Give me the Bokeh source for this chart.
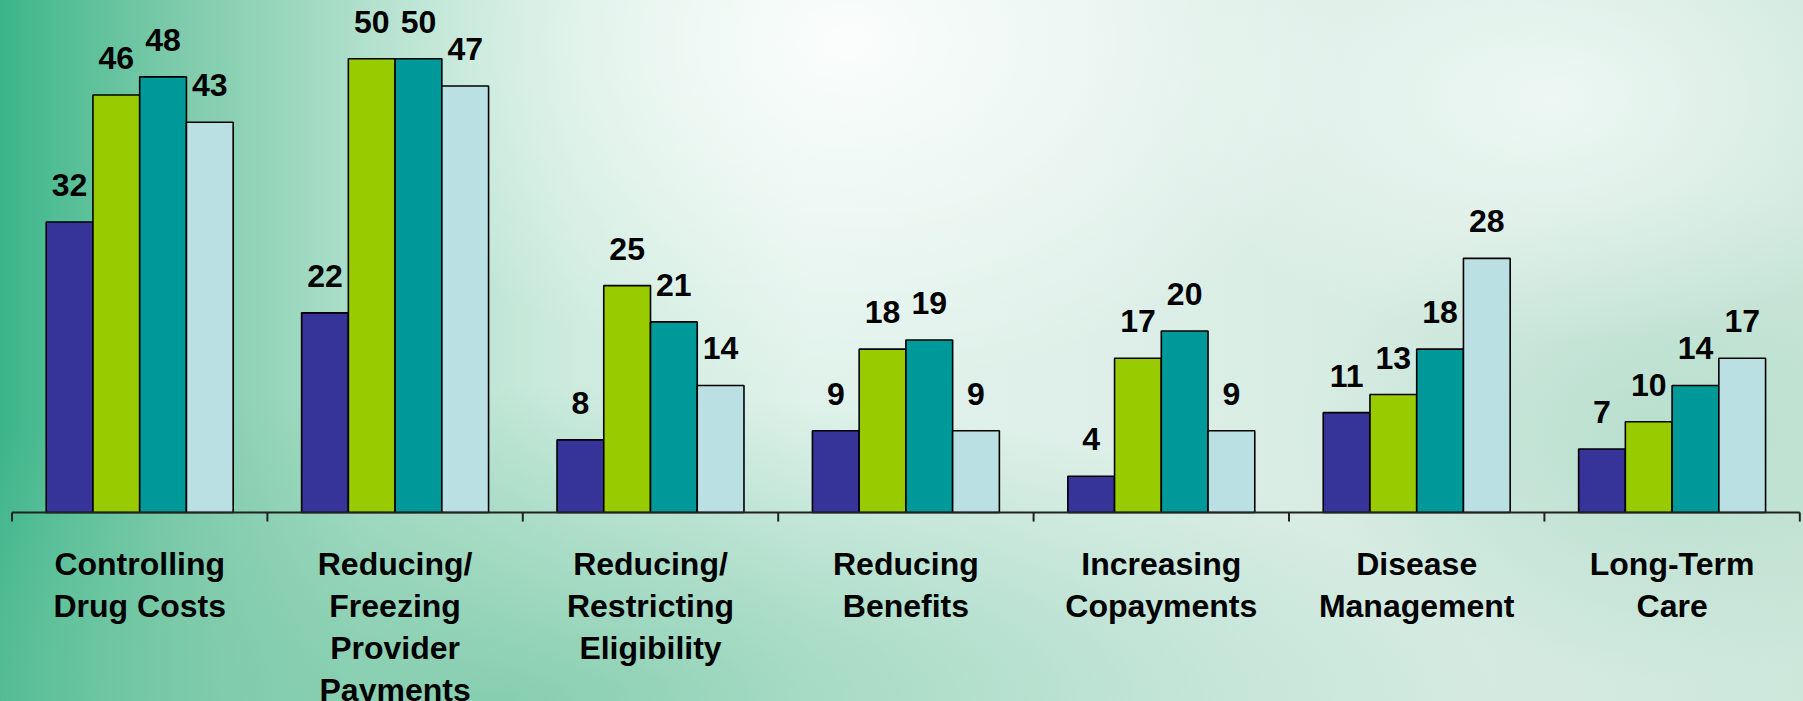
from bokeh.plotting import figure
from bokeh.models import Range1d, ColumnDataSource
from bokeh.core.properties import value
from bokeh.embed import file_html
from bokeh.resources import INLINE

# ---- data ----
categories = [
    "Controlling\nDrug Costs",
    "Reducing/\nFreezing\nProvider\nPayments",
    "Reducing/\nRestricting\nEligibility",
    "Reducing\nBenefits",
    "Increasing\nCopayments",
    "Disease\nManagement",
    "Long-Term\nCare",
]
series_a = [32, 22, 8, 9, 4, 11, 7]
series_b = [46, 50, 25, 18, 17, 13, 10]
series_c = [48, 50, 21, 19, 20, 18, 14]
series_d = [43, 47, 14, 9, 9, 28, 17]
series = [series_a, series_b, series_c, series_d]
colors = ["#363399", "#99CC00", "#009999", "#BBE0E3"]

# ---- layout constants ----
W, H = 1803, 701
cat_px = 255.4          # pixels per category
left_px = 11.5          # pixel position of category boundary 0
zero_px = 512.0         # pixel row of value 0
unit_px = 9.076         # pixels per value unit
bw = 0.183              # bar width in category units
FONT = "Liberation Sans"

p = figure(
    width=W, height=H,
    x_range=Range1d(-left_px / cat_px, (W - left_px) / cat_px),
    y_range=Range1d(-(H - zero_px) / unit_px, zero_px / unit_px),
    x_axis_type=None, y_axis_type=None,
    toolbar_location=None, output_backend="svg",
    min_border=0,
)
p.background_fill_color = None
p.border_fill_color = None
p.outline_line_color = None
p.styles = {
    "background-color": "#d5ece2",
    "background-image": (
        "radial-gradient(ellipse 28% 50% at 47% 6%, rgba(255,255,255,0.85), rgba(255,255,255,0) 100%),"
        "radial-gradient(ellipse 22% 35% at 86% 14%, rgba(245,252,250,0.75), rgba(245,252,250,0) 100%),"
        "radial-gradient(ellipse 55% 45% at 28% 100%, rgba(120,200,166,0.8), rgba(120,200,166,0) 100%),"
        "radial-gradient(ellipse 20% 35% at 92% 62%, rgba(160,214,190,0.5), rgba(160,214,190,0) 100%),"
        "linear-gradient(90deg, #3bb489 0%, #50bd94 3%, #7ecbab 10%, #aedfca 20%, #cdebde 32%, "
        "#e0f2eb 45%, #ddefe8 62%, #d6ebe2 80%, #cde7db 100%)"
    ),
}

n = len(categories)
for j, vals in enumerate(series):
    xs = [i + 0.5 + (j - 1.5) * bw for i in range(n)]
    src = ColumnDataSource(dict(x=xs, top=vals, lab=[str(v) for v in vals]))
    p.vbar(x="x", top="top", bottom=0, width=bw, source=src,
           fill_color=colors[j], line_color="#000000", line_width=1.6)
    p.text(x="x", y="top", text="lab", source=src, y_offset=-37,
           text_align="center", text_baseline="alphabetic",
           text_font=value(FONT), text_font_style="bold",
           text_font_size="32px", text_color="#000000")

# axis line and ticks at category boundaries
p.segment(x0=[0], y0=[0], x1=[n], y1=[0], line_color="#222222", line_width=2)
p.segment(x0=list(range(n + 1)), y0=[0] * (n + 1), x1=list(range(n + 1)),
          y1=[-1.0] * (n + 1), line_color="#222222", line_width=2)

# category labels (one text per line)
lx, ly, lt, lo = [], [], [], []
for i, c in enumerate(categories):
    for k, line in enumerate(c.split("\n")):
        lx.append(i + 0.5)
        ly.append(0)
        lt.append(line)
        lo.append(51 + 42 * k)
p.text(x=lx, y=ly, text=lt, y_offset=lo,
       text_align="center", text_baseline="alphabetic",
       text_font=value(FONT), text_font_style="bold",
       text_font_size="32px", text_color="#000000")

open("out.html", "w").write(file_html(p, INLINE))
